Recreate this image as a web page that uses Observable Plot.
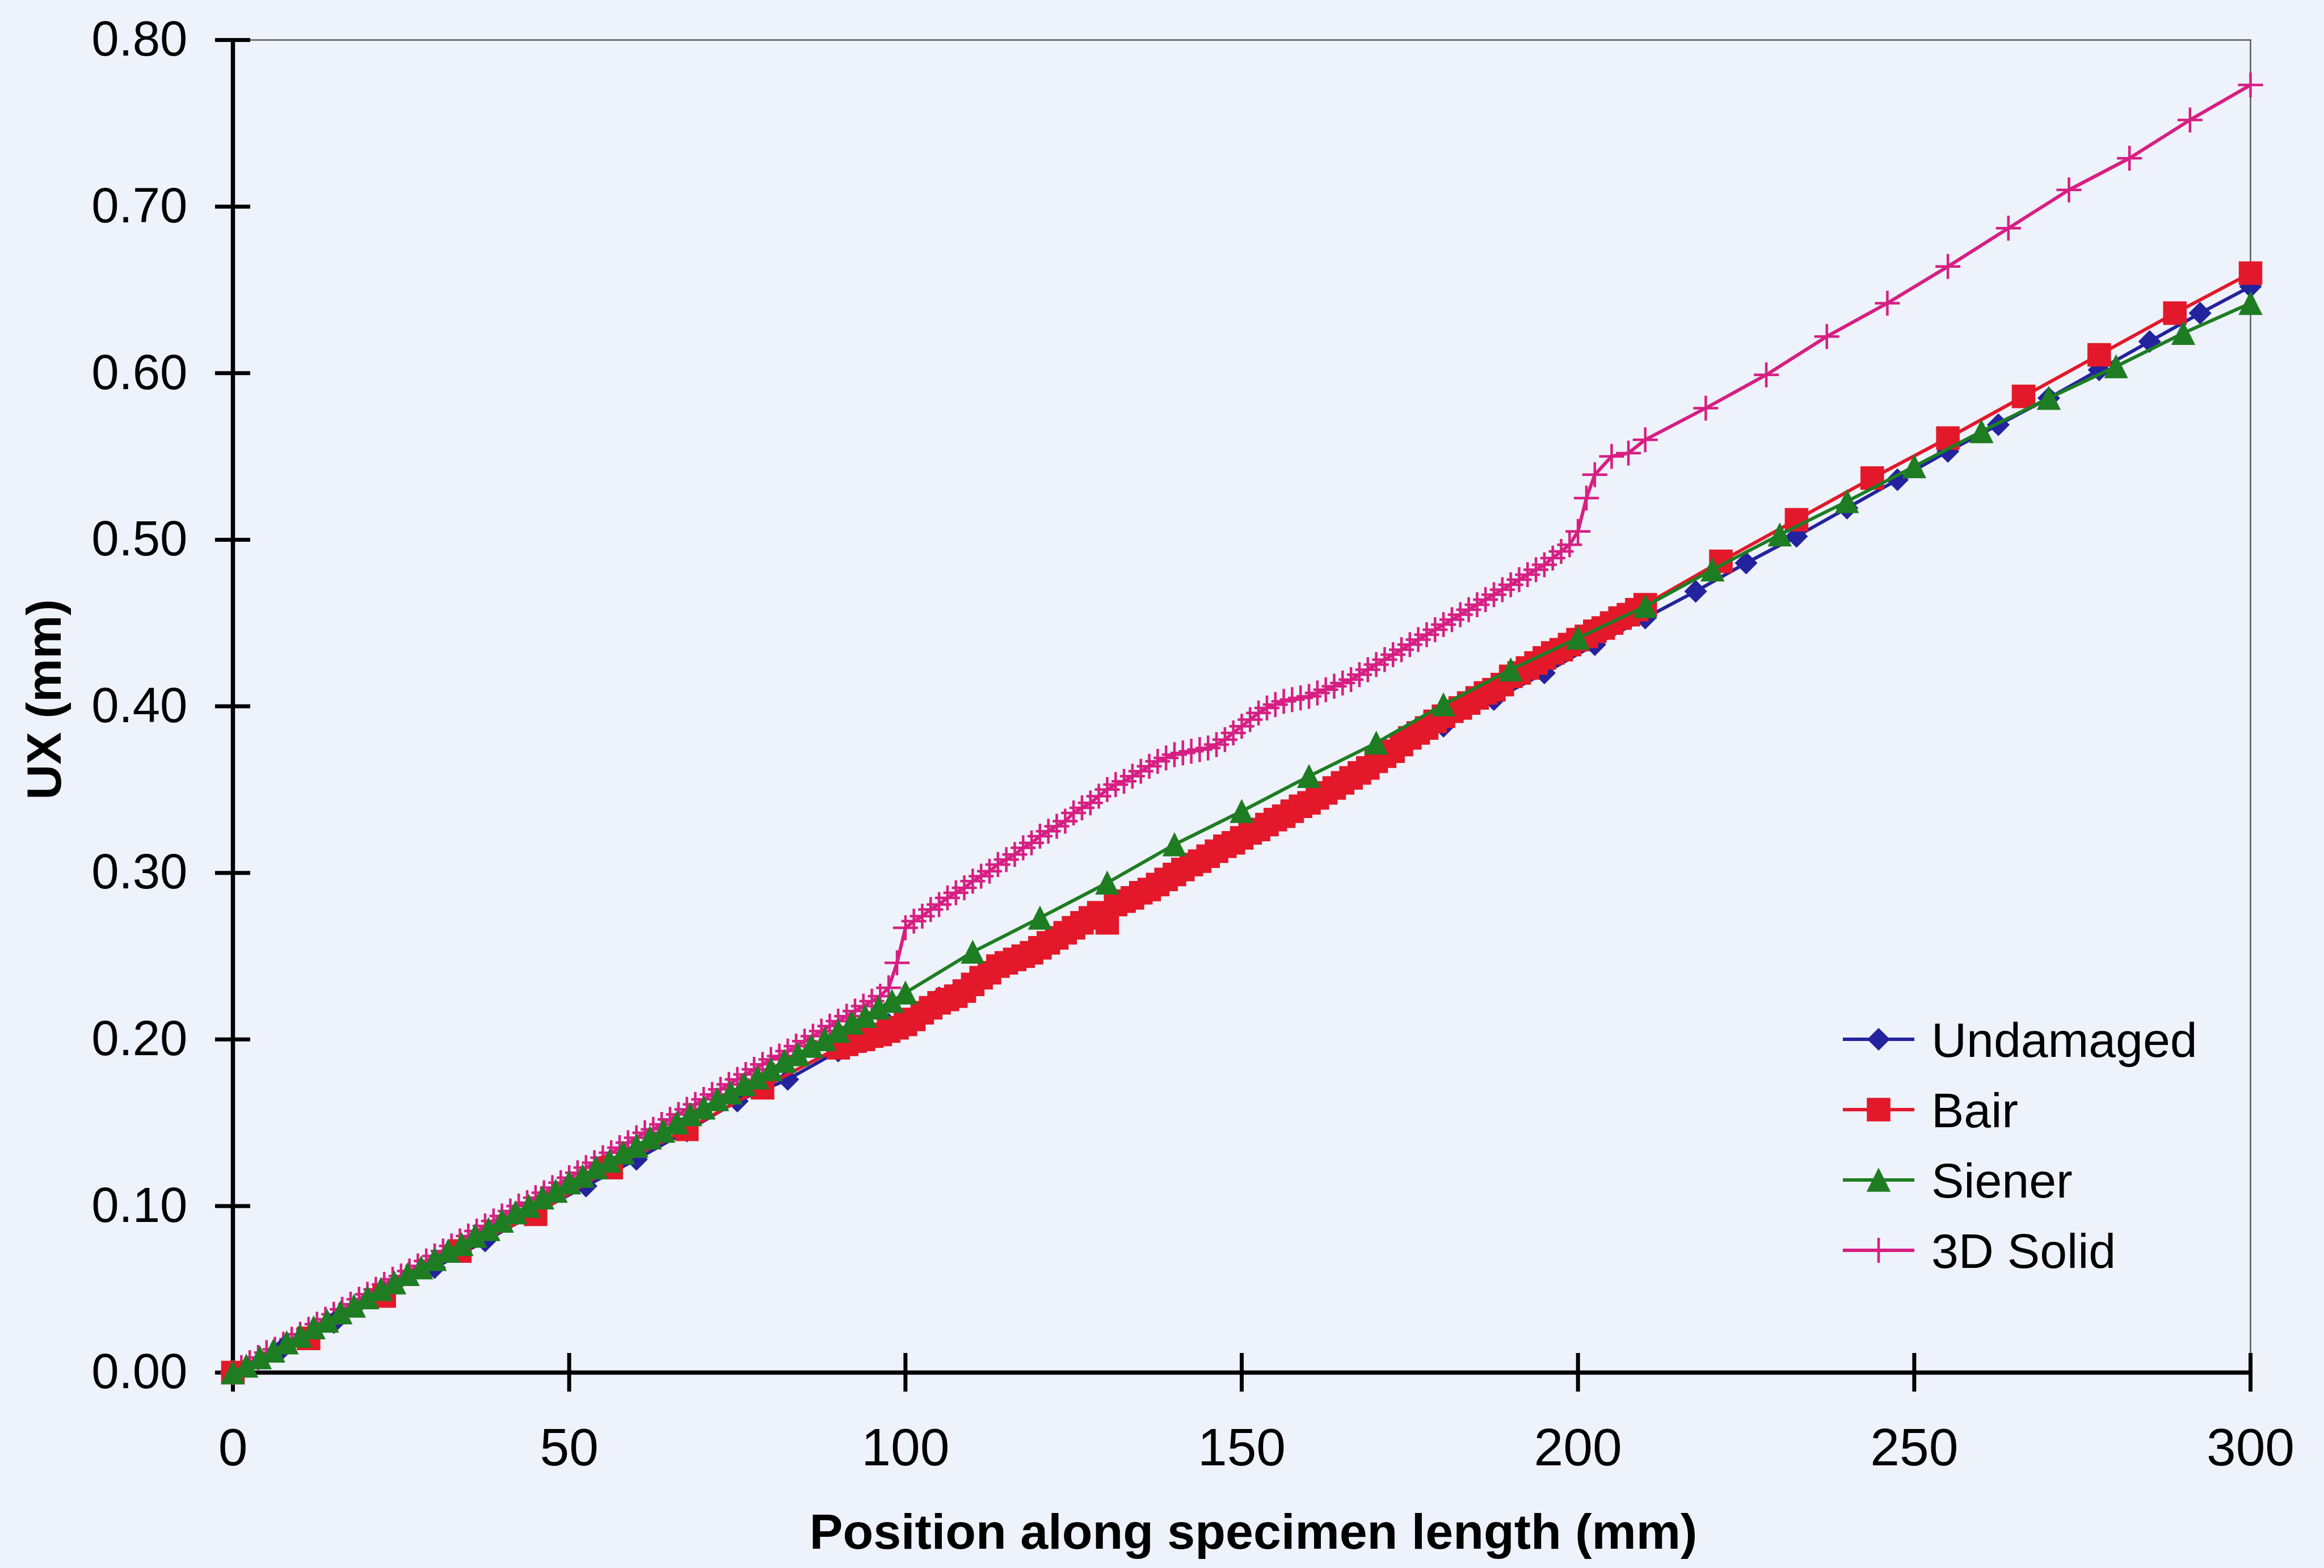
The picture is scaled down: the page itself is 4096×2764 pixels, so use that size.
<!DOCTYPE html>
<html><head><meta charset="utf-8">
<script src="https://cdn.jsdelivr.net/npm/d3@7"></script>
<script src="https://cdn.jsdelivr.net/npm/@observablehq/plot@0.6"></script>
<style>
html,body{margin:0;padding:0;background:#eef2fa;}
#chart{width:4096px;height:2764px;overflow:hidden;}
svg{display:block;}
</style></head><body><div id="chart"></div>
<script>
// ---------- data ----------
const seriesNames = ["Undamaged", "Bair", "Siener", "3D Solid"];
const xTicks = [0, 50, 100, 150, 200, 250, 300];
const yTicks = [0, 0.1, 0.2, 0.3, 0.4, 0.5, 0.6, 0.7, 0.8];
const xTitle = "Position along specimen length (mm)";
const yTitle = "UX (mm)";

// [position (mm), UX (mm)]
const undamaged = [[0,0],[7.5,0.015],[15,0.030],[22.5,0.047],[30,0.063],[37.5,0.079],[45,0.096],[52.5,0.112],[60,0.128],[67.5,0.145],[75,0.163],[82.5,0.176],[90,0.193],[97.5,0.209],[105,0.225],[112.5,0.241],[120,0.257],[127.5,0.273],[135,0.289],[142.5,0.306],[150,0.322],[157.5,0.338],[165,0.354],[172.5,0.372],[180,0.388],[187.5,0.404],[195,0.420],[202.5,0.437],[210,0.453],[217.5,0.469],[225,0.486],[232.5,0.502],[240,0.519],[247.5,0.536],[255,0.553],[262.5,0.569],[270,0.585],[277.5,0.602],[285,0.619],[292.5,0.636],[300,0.652]];

const bair = [[0,0],[11.25,0.0205],[22.5,0.046],[33.75,0.073],[45,0.095],[56.25,0.123],[67.5,0.146],[78.75,0.171],[90,0.195],
[91.25,0.197],[92.5,0.199],[93.75,0.200],[95,0.202],[96.25,0.203],[97.5,0.205],[98.75,0.207],[100,0.209],
[101.25,0.212],[102.5,0.216],[103.75,0.219],[105,0.222],[106.25,0.224],[107.5,0.226],[108.75,0.229],[110,0.233],
[111.25,0.237],[112.5,0.240],[113.75,0.244],[115,0.246],[116.25,0.248],[117.5,0.250],[118.75,0.252],[120,0.255],
[121.25,0.258],[122.5,0.261],[123.75,0.264],[125,0.267],[126.25,0.270],[127.5,0.273],[128.75,0.276],[130,0.270],
[131.25,0.281],[132.5,0.283],[133.75,0.285],[135,0.288],[136.25,0.290],[137.5,0.293],[138.75,0.296],[140,0.299],
[141.25,0.302],[142.5,0.305],[143.75,0.307],[145,0.310],[146.25,0.313],[147.5,0.316],[148.75,0.318],[150,0.321],
[151.25,0.324],[152.5,0.326],[153.75,0.329],[155,0.332],[156.25,0.334],[157.5,0.337],[158.75,0.340],[160,0.342],
[161.25,0.345],[162.5,0.348],[163.75,0.351],[165,0.354],[166.25,0.357],[167.5,0.360],[168.75,0.363],[170,0.367],
[171.25,0.370],[172.5,0.373],[173.75,0.377],[175,0.381],[176.25,0.384],[177.5,0.387],[178.75,0.391],[180,0.394],
[181.25,0.397],[182.5,0.399],[183.75,0.402],[185,0.405],[186.25,0.408],[187.5,0.410],[188.75,0.413],[190,0.418],
[191.25,0.420],[192.5,0.423],[193.75,0.426],[195,0.429],[196.25,0.432],[197.5,0.434],[198.75,0.437],[200,0.440],
[201.25,0.442],[202.5,0.445],[203.75,0.447],[205,0.450],[206.25,0.453],[207.5,0.455],[208.75,0.458],[210,0.461],
[221.25,0.487],[232.5,0.512],[243.75,0.537],[255,0.561],[266.25,0.586],[277.5,0.611],[288.75,0.636],[300,0.660]];

const siener = [[0,0],[2,0.004],[4,0.009],[6,0.013],[8,0.018],[10,0.022],[12,0.027],[14,0.031],[16,0.036],[18,0.040],[20,0.045],
[22,0.050],[24,0.054],[26,0.059],[28,0.063],[30,0.068],[32,0.073],[34,0.077],[36,0.082],[38,0.086],[40,0.091],
[42,0.096],[44,0.100],[46,0.105],[48,0.109],[50,0.114],[52,0.118],[54,0.123],[56,0.127],[58,0.132],[60,0.136],
[62,0.141],[64,0.145],[66,0.150],[68,0.155],[70,0.159],[72,0.164],[74,0.168],[76,0.173],[78,0.177],[80,0.182],
[82,0.187],[84,0.191],[86,0.196],[88,0.200],[90,0.205],[92,0.210],[94,0.214],[96,0.219],[98,0.223],[100,0.228],
[110,0.2525],[120,0.273],[130,0.294],[140,0.317],[150,0.337],[160,0.358],[170,0.378],[180,0.401],[190,0.422],[200,0.441],
[210,0.460],[220,0.482],[230,0.503],[240,0.523],[250,0.544],[260,0.565],[270,0.585],[280,0.604],[290,0.624],[300,0.642]];

const solid3d = [[0,0],[1.25,0.003],[2.5,0.006],[3.75,0.009],[5,0.012],[6.25,0.014],[7.5,0.017],[8.75,0.020],[10,0.023],
[11.25,0.026],[12.5,0.029],[13.75,0.032],[15,0.035],[16.25,0.038],[17.5,0.041],[18.75,0.044],[20,0.047],
[21.25,0.050],[22.5,0.053],[23.75,0.056],[25,0.058],[26.25,0.061],[27.5,0.064],[28.75,0.067],[30,0.070],
[31.25,0.073],[32.5,0.076],[33.75,0.079],[35,0.082],[36.25,0.085],[37.5,0.088],[38.75,0.091],[40,0.094],
[41.25,0.097],[42.5,0.100],[43.75,0.102],[45,0.105],[46.25,0.108],[47.5,0.111],[48.75,0.114],[50,0.117],
[51.25,0.120],[52.5,0.123],[53.75,0.126],[55,0.129],[56.25,0.132],[57.5,0.135],[58.75,0.138],[60,0.141],
[61.25,0.144],[62.5,0.146],[63.75,0.149],[65,0.152],[66.25,0.155],[67.5,0.158],[68.75,0.161],[70,0.164],
[71.25,0.167],[72.5,0.170],[73.75,0.173],[75,0.176],[76.25,0.179],[77.5,0.182],[78.75,0.185],[80,0.188],
[81.25,0.190],[82.5,0.193],[83.75,0.196],[85,0.199],[86.25,0.202],[87.5,0.205],[88.75,0.208],[90,0.211],
[91.25,0.214],[92.5,0.217],[93.75,0.220],[95,0.223],[96.25,0.226],[97.5,0.231],[98.75,0.246],[100,0.267],
[101.25,0.271],[102.5,0.274],[103.75,0.278],[105,0.281],[106.25,0.285],[107.5,0.288],[108.75,0.291],[110,0.295],
[111.25,0.298],[112.5,0.301],[113.75,0.305],[115,0.308],[116.25,0.311],[117.5,0.315],[118.75,0.318],[120,0.322],
[121.25,0.325],[122.5,0.328],[123.75,0.331],[125,0.336],[126.25,0.339],[127.5,0.342],[128.75,0.346],[130,0.350],
[131.25,0.353],[132.5,0.355],[133.75,0.358],[135,0.361],[136.25,0.364],[137.5,0.367],[138.75,0.369],[140,0.371],
[141.25,0.372],[142.5,0.373],[143.75,0.374],[145,0.375],[146.25,0.377],[147.5,0.380],[148.75,0.384],[150,0.388],
[151.25,0.392],[152.5,0.396],[153.75,0.399],[155,0.401],[156.25,0.403],[157.5,0.404],[158.75,0.405],[160,0.406],
[161.25,0.408],[162.5,0.410],[163.75,0.412],[165,0.414],[166.25,0.416],[167.5,0.419],[168.75,0.422],[170,0.425],
[171.25,0.428],[172.5,0.431],[173.75,0.434],[175,0.437],[176.25,0.440],[177.5,0.443],[178.75,0.446],[180,0.449],
[181.25,0.452],[182.5,0.455],[183.75,0.458],[185,0.461],[186.25,0.464],[187.5,0.467],[188.75,0.470],[190,0.473],
[191.25,0.476],[192.5,0.479],[193.75,0.482],[195,0.485],[196.25,0.489],[197.5,0.493],[198.75,0.497],[200,0.505],
[201.25,0.525],[202.5,0.539],[205,0.550],[207.5,0.552],[210,0.560],
[219,0.579],[228,0.599],[237,0.622],[246,0.642],[255,0.664],[264,0.687],[273,0.710],[282,0.729],[291,0.752],[300,0.773]];

const seriesColors = ["#23239e", "#e3182a", "#1e7d22", "#d61f83"];

// ---------- marker shapes ----------
const rad = (size) => Math.sqrt(size / Math.PI);
const symDiamond = {draw(c, s){const r = rad(s); c.moveTo(0,-r); c.lineTo(r,0); c.lineTo(0,r); c.lineTo(-r,0); c.closePath();}};
const symSquare = {draw(c, s){const r = rad(s); c.moveTo(-r,-r); c.lineTo(r,-r); c.lineTo(r,r); c.lineTo(-r,r); c.closePath();}};
const symTriangle = {draw(c, s){const r = rad(s); c.moveTo(0,-r); c.lineTo(r,r); c.lineTo(-r,r); c.closePath();}};
const symPlus = {draw(c, s){const r = rad(s); c.moveTo(-r,0); c.lineTo(r,0); c.moveTo(0,-r); c.lineTo(0,r);}};

const series = [
  {name: seriesNames[0], data: undamaged, color: seriesColors[0], symbol: symDiamond, r: 19, filled: true},
  {name: seriesNames[1], data: bair,      color: seriesColors[1], symbol: symSquare,  r: 20, filled: true},
  {name: seriesNames[2], data: siener,    color: seriesColors[2], symbol: symTriangle, r: 20, filled: true},
  {name: seriesNames[3], data: solid3d,   color: seriesColors[3], symbol: symPlus,    r: 22, filled: false}
];
const drawOrder = [3, 0, 1, 2];

const FONT = "'Liberation Sans', Arial, Helvetica, sans-serif";
const rows = (s) => s.data.map(([x, v]) => ({series: s.name, x, v}));

const dataMarks = [];
for (const i of drawOrder) {
  const s = series[i];
  const t = rows(s);
  dataMarks.push(Plot.line(t, {x: "x", y: "v", stroke: s.color, strokeWidth: 6}));
  dataMarks.push(Plot.dot(t, {x: "x", y: "v", symbol: s.symbol, r: s.r,
    fill: s.filled ? s.color : "none", stroke: s.color, strokeWidth: s.filled ? 1.5 : 4.5}));
}

const chart = Plot.plot({
  width: 4096, height: 2764,
  marginLeft: 410, marginRight: 130, marginTop: 70, marginBottom: 345,
  style: {background: "#eef2fa", fontFamily: FONT, color: "#000"},
  x: {domain: [0, 300]},
  y: {domain: [0, 0.8]},
  marks: [
    Plot.frame({stroke: "#5a5a5a", strokeWidth: 2.5}),
    Plot.axisX(xTicks, {tickSize: 68, dy: -34, tickPadding: 63, fontSize: 93, strokeWidth: 7, tickFormat: d => String(d), label: null}),
    Plot.axisY(yTicks, {tickSize: 62, dx: 31, tickPadding: 49, fontSize: 87, strokeWidth: 7, tickFormat: d => d.toFixed(2), label: null}),
    Plot.ruleY([0], {stroke: "#000", strokeWidth: 7.5}),
    Plot.ruleX([0], {stroke: "#000", strokeWidth: 7.5}),
    ...dataMarks
  ]
});
document.getElementById("chart").appendChild(chart);

// ---------- axis titles and legend ----------
const svg = d3.select(chart);
svg.append("text")
  .attr("x", 2209).attr("y", 2730)
  .attr("text-anchor", "middle")
  .attr("font-family", FONT).attr("font-weight", "bold").attr("font-size", 88)
  .attr("fill", "#000").text(xTitle);
svg.append("text")
  .attr("transform", "translate(107,1233) rotate(-90)")
  .attr("text-anchor", "middle")
  .attr("font-family", FONT).attr("font-weight", "bold").attr("font-size", 86)
  .attr("fill", "#000").text(yTitle);

const legend = svg.append("g").attr("transform", "translate(3248,1832)");
series.forEach((s, i) => {
  const g = legend.append("g").attr("transform", `translate(0,${i * 124})`);
  g.append("line").attr("x1", 0).attr("x2", 126).attr("y1", 0).attr("y2", 0)
    .attr("stroke", s.color).attr("stroke-width", 6);
  g.append("path")
    .attr("transform", "translate(63,0)")
    .attr("d", d3.symbol(s.symbol, Math.PI * s.r * s.r)())
    .attr("fill", s.filled ? s.color : "none")
    .attr("stroke", s.color).attr("stroke-width", s.filled ? 1.5 : 4.5);
  g.append("text").attr("x", 156).attr("y", 0).attr("dy", "0.36em")
    .attr("text-anchor", "start")
    .attr("font-family", FONT).attr("font-size", 86).attr("fill", "#000")
    .text(s.name);
});
</script></body></html>
